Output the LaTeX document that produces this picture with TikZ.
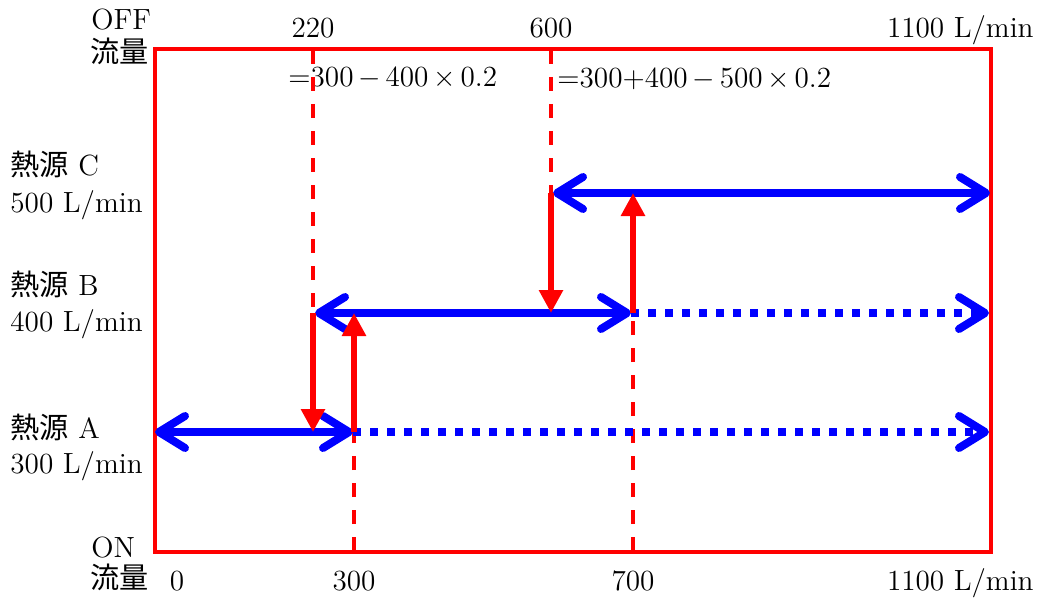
\documentclass[tikz,border=0pt]{standalone}
\usepackage{fontspec}
\newfontfamily\jp{Noto Sans CJK JP}
\usetikzlibrary{arrows.meta,positioning}

\begin{document}
\begin{tikzpicture}[x=0.5pt, y=-0.5pt,
  every node/.style={font=\fontsize{14.6}{17}\selectfont, inner sep=0pt},
  frame/.style={draw=red, line width=2pt},
  guide/.style={draw=red, line width=1.8pt, dash pattern=on 7pt off 6.5pt},
  handover/.style={draw=red, line width=3.4pt, -{Triangle[length=11.5pt, width=11.5pt]}},
  barb/.tip={Straight Barb[length=13pt, width=16pt, round]},
  band/.style={draw=blue, line width=4pt, barb-barb},
  idle/.style={draw=blue, line width=4pt, dash pattern=on 4pt off 4.5pt, -barb}
]
  \useasboundingbox (0,0) rectangle (1038,599);

  % frame
  \draw[frame] (155,49) rectangle (991,552);

  % OFF side
  \node[anchor=base west] (off)  at (91,30)  {OFF};
  \node[anchor=base west] (offq) at (90,63)  {\jp 流量};
  \node[anchor=base] (v220) at (313,38) {220};
  \node[anchor=base] (v600) at (551,38) {600};
  \node[anchor=base east] (vtop) at (1034,38) {1100 L/min};
  \node[anchor=base west] (eq1) at (288,87) {=300$\,-\,$400$\,\times\,$0.2};
  \node[anchor=base west] (eq2) at (557,88) {=300+400$\,-\,$500$\,\times\,$0.2};

  % ON side
  \node[anchor=base west] (on)  at (91,557) {ON};
  \node[anchor=base west] (onq) at (90,588) {\jp 流量};
  \node[anchor=base] (v0)   at (177,590) {0};
  \node[anchor=base] (v300) at (354,590) {300};
  \node[anchor=base] (v700) at (633,590) {700};
  \node[anchor=base east] (vbot) at (1034,590) {1100 L/min};

  % heat sources
  \node[anchor=base west] (srcC) at (10,175) {{\jp 熱源} C};
  \node[anchor=base west] (flC)  at (10,212) {500 L/min};
  \node[anchor=base west] (srcB) at (10,295) {{\jp 熱源} B};
  \node[anchor=base west] (flB)  at (10,331) {400 L/min};
  \node[anchor=base west] (srcA) at (10,438) {{\jp 熱源} A};
  \node[anchor=base west] (flA)  at (10,473) {300 L/min};

  % switching points
  \coordinate (t220) at (313,50);
  \coordinate (t600) at (551,50);
  \coordinate (b300) at (354,551);
  \coordinate (b700) at (633,551);

  % ranges
  \coordinate (a0) at (155,432);
  \coordinate (a1) at (353,432);
  \coordinate (aE) at (989,432);
  \coordinate (b0) at (315,313);
  \coordinate (b1) at (631,313);
  \coordinate (bE) at (989,313);
  \coordinate (c0) at (553,193);
  \coordinate (cE) at (990,193);

  \draw[guide] (t220) -- (t220 |- b0);
  \draw[guide] (t600) -- (t600 |- c0);
  \draw[guide] (b300) -- (b300 |- a0);
  \draw[guide] (b700) -- (b700 |- b0);

  \draw[band] (a0) -- (a1);
  \draw[idle] (a1) -- (aE);
  \draw[band] (b0) -- (b1);
  \draw[idle] (b1) -- (bE);
  \draw[band] (c0) -- (cE);

  \draw[handover] (t220 |- b0) -- (t220 |- a0);
  \draw[handover] (t600 |- c0) -- (t600 |- b0);
  \draw[handover] (b300 |- a0) -- (b300 |- b0);
  \draw[handover] (b700 |- b0) -- (b700 |- c0);
\end{tikzpicture}
\end{document}
